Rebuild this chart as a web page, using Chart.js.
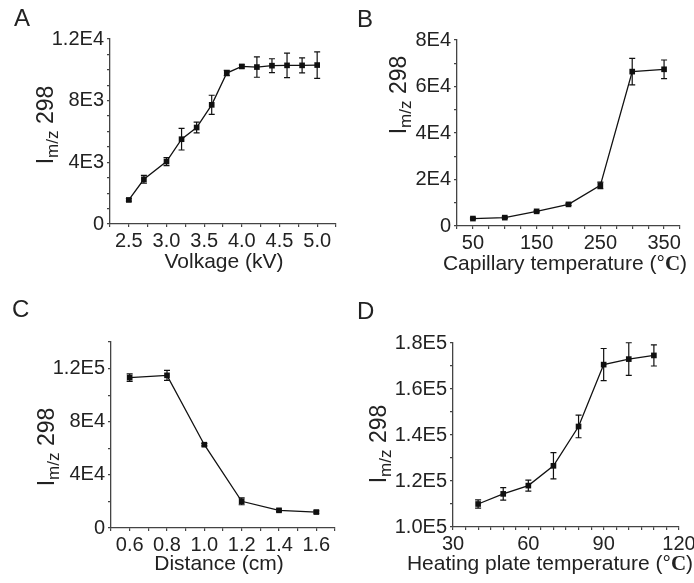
<!DOCTYPE html>
<html>
<head>
<meta charset="utf-8">
<script src="https://cdn.jsdelivr.net/npm/chart.js@4.4.1/dist/chart.umd.min.js"></script>
<style>
body { margin: 0; background: #fff; }
#wrap { position: relative; width: 694px; height: 583px; overflow: hidden; font-family: "Liberation Sans", Arial, sans-serif; color: #222; }
canvas { position: absolute; }
.letter { position: absolute; font-size: 24px; line-height: 24px; }
.xt { position: absolute; width: 400px; text-align: center; font-size: 21px; line-height: 24px; white-space: nowrap; }
.xt .c { font-family: "Liberation Serif", serif; font-weight: bold; }
.yt { position: absolute; width: 140px; height: 28px; text-align: center; font-size: 23px; line-height: 28px; transform: rotate(-90deg); white-space: nowrap; }
.yt sub { font-size: 17px; vertical-align: -5px; line-height: 0; }
</style>
</head>
<body>
<div id="wrap">
  <canvas id="chartA" width="347" height="290" style="left:0;top:0"></canvas>
  <canvas id="chartB" width="347" height="290" style="left:347px;top:0"></canvas>
  <canvas id="chartC" width="347" height="293" style="left:0;top:290px"></canvas>
  <canvas id="chartD" width="347" height="293" style="left:347px;top:290px"></canvas>

  <div class="letter" style="left:14px;top:6px">A</div>
  <div class="letter" style="left:357px;top:7px">B</div>
  <div class="letter" style="left:12px;top:297px">C</div>
  <div class="letter" style="left:357px;top:299px">D</div>

  <div class="yt" style="left:-25px;top:111px">I<sub>m/z</sub> 298</div>
  <div class="yt" style="left:328px;top:81px">I<sub>m/z</sub> 298</div>
  <div class="yt" style="left:-24px;top:433px">I<sub>m/z</sub> 298</div>
  <div class="yt" style="left:308px;top:430px">I<sub>m/z</sub> 298</div>

  <div class="xt" style="left:24px;top:249px">Volkage (kV)</div>
  <div class="xt" style="left:365px;top:251px">Capillary temperature (°<span class="c">C</span>)</div>
  <div class="xt" style="left:19px;top:551px">Distance (cm)</div>
  <div class="xt" style="left:350px;top:551px">Heating plate temperature (°<span class="c">C</span>)</div>
</div>
<script>
// A - spray voltage
const voltage = [2.5, 2.7, 3.0, 3.2, 3.4, 3.6, 3.8, 4.0, 4.2, 4.4, 4.6, 4.8, 5.0];
const voltageSignal = [1560, 2900, 4050, 5500, 6260, 7730, 9790, 10220, 10180, 10270, 10290, 10290, 10310];
const voltageErr = [80, 250, 260, 700, 350, 620, 170, 100, 660, 450, 790, 490, 860];
const xTicksA = [2.5, 3.0, 3.5, 4.0, 4.5, 5.0];
const xLabelsA = ['2.5', '3.0', '3.5', '4.0', '4.5', '5.0'];
const yTicksA = [0, 4000, 8000, 12000];
const yLabelsA = ['0', '4E3', '8E3', '1.2E4'];

// B - capillary temperature
const capTemp = [50, 100, 150, 200, 250, 300, 350];
const capSignal = [3200, 3600, 6300, 9300, 17500, 66400, 67400];
const capErr = [300, 300, 300, 400, 1400, 5700, 4000];
const xTicksB = [50, 150, 250, 350];
const xLabelsB = ['50', '150', '250', '350'];
const yTicksB = [0, 20000, 40000, 60000, 80000];
const yLabelsB = ['0', '2E4', '4E4', '6E4', '8E4'];

// C - distance
const distance = [0.6, 0.8, 1.0, 1.2, 1.4, 1.6];
const distSignal = [113200, 114900, 62700, 20100, 13300, 12000];
const distErr = [2800, 3800, 900, 2600, 900, 900];
const xTicksC = [0.6, 0.8, 1.0, 1.2, 1.4, 1.6];
const xLabelsC = ['0.6', '0.8', '1.0', '1.2', '1.4', '1.6'];
const yTicksC = [0, 40000, 80000, 120000];
const yLabelsC = ['0', '4E4', '8E4', '1.2E5'];

// D - heating plate temperature
const plateTemp = [40, 50, 60, 70, 80, 90, 100, 110];
const plateSignal = [110000, 114400, 118000, 126600, 143700, 170600, 173000, 174600];
const plateErr = [1800, 2700, 2400, 5700, 4900, 7000, 7100, 4600];
const xTicksD = [30, 60, 90, 120];
const xLabelsD = ['30', '60', '90', '120'];
const yTicksD = [100000, 120000, 140000, 160000, 180000];
const yLabelsD = ['1.0E5', '1.2E5', '1.4E5', '1.6E5', '1.8E5'];

const FONT = '"Liberation Sans", Arial, sans-serif';
const AXIS = '#444';

const errorBars = {
    id: 'errorBars',
    afterDatasetsDraw(chart) {
        const ds = chart.data.datasets[0];
        const sx = chart.scales.x, sy = chart.scales.y;
        const ctx = chart.ctx;
        ctx.save();
        ctx.strokeStyle = '#111';
        ctx.lineWidth = 1.2;
        ds.data.forEach((p, i) => {
            const e = ds.errors[i];
            const px = sx.getPixelForValue(p.x);
            const top = sy.getPixelForValue(p.y + e);
            const bot = sy.getPixelForValue(p.y - e);
            ctx.beginPath();
            ctx.moveTo(px, top); ctx.lineTo(px, bot);
            ctx.moveTo(px - 3, top); ctx.lineTo(px + 3, top);
            ctx.moveTo(px - 3, bot); ctx.lineTo(px + 3, bot);
            ctx.stroke();
        });
        ctx.restore();
    }
};

function pickLabel(v, ticks, labels) {
    const i = ticks.findIndex(t => Math.abs(t - v) < 1e-6 * Math.max(1, Math.abs(t)));
    return i >= 0 ? labels[i] : '';
}

function makePanel(id, box, area, xs, ys, errs, xAxis, yAxis) {
    return new Chart(document.getElementById(id), {
        type: 'line',
        data: {
            datasets: [{
                data: xs.map((x, i) => ({ x: x, y: ys[i] })),
                errors: errs,
                borderColor: '#111',
                borderWidth: 1.3,
                backgroundColor: '#111',
                pointStyle: 'rect',
                pointRadius: 4,
                pointBorderWidth: 0,
                tension: 0
            }]
        },
        options: {
            responsive: false,
            animation: false,
            events: [],
            layout: { padding: { left: 0, top: area.top, right: box.w - area.right, bottom: 0 } },
            plugins: { legend: { display: false }, tooltip: { enabled: false } },
            scales: {
                x: {
                    type: 'linear',
                    min: xAxis.min, max: xAxis.max,
                    border: { color: AXIS, width: 1.3 },
                    grid: { drawOnChartArea: false, drawTicks: true, tickLength: 3, color: AXIS, lineWidth: 1.2 },
                    ticks: {
                        stepSize: xAxis.step, autoSkip: false, maxRotation: 0, padding: 2,
                        color: '#222', font: { size: 20, family: FONT },
                        callback: v => pickLabel(v, xAxis.ticks, xAxis.labels)
                    },
                    afterFit: s => { s.height = box.h - area.bottom; s.paddingLeft = 0; s.paddingRight = 0; }
                },
                y: {
                    type: 'linear',
                    min: yAxis.min, max: yAxis.max,
                    border: { color: AXIS, width: 1.3 },
                    grid: { drawOnChartArea: false, drawTicks: true, tickLength: 3, color: AXIS, lineWidth: 1.2 },
                    ticks: {
                        stepSize: yAxis.step, autoSkip: false, padding: 3,
                        color: '#222', font: { size: 20, family: FONT },
                        callback: v => pickLabel(v, yAxis.ticks, yAxis.labels)
                    },
                    afterFit: s => { s.width = area.left; s.paddingTop = 0; s.paddingBottom = 0; }
                }
            }
        },
        plugins: [errorBars]
    });
}

makePanel('chartA', { w: 347, h: 290 }, { left: 110, top: 39, right: 336, bottom: 224 },
    voltage, voltageSignal, voltageErr,
    { min: 2.25, max: 5.25, step: 0.25, ticks: xTicksA, labels: xLabelsA },
    { min: 0, max: 12000, step: 1000, ticks: yTicksA, labels: yLabelsA });

makePanel('chartB', { w: 347, h: 290 }, { left: 110, top: 40, right: 333, bottom: 226 },
    capTemp, capSignal, capErr,
    { min: 25, max: 375, step: 25, ticks: xTicksB, labels: xLabelsB },
    { min: 0, max: 80000, step: 10000, ticks: yTicksB, labels: yLabelsB });

makePanel('chartC', { w: 347, h: 293 }, { left: 111, top: 52, right: 335, bottom: 238 },
    distance, distSignal, distErr,
    { min: 0.5, max: 1.7, step: 0.1, ticks: xTicksC, labels: xLabelsC },
    { min: 0, max: 140000, step: 20000, ticks: yTicksC, labels: yLabelsC });

makePanel('chartD', { w: 347, h: 293 }, { left: 106, top: 53, right: 332, bottom: 237 },
    plateTemp, plateSignal, plateErr,
    { min: 30, max: 120, step: 5, ticks: xTicksD, labels: xLabelsD },
    { min: 100000, max: 180000, step: 10000, ticks: yTicksD, labels: yLabelsD });
</script>
</body>
</html>
